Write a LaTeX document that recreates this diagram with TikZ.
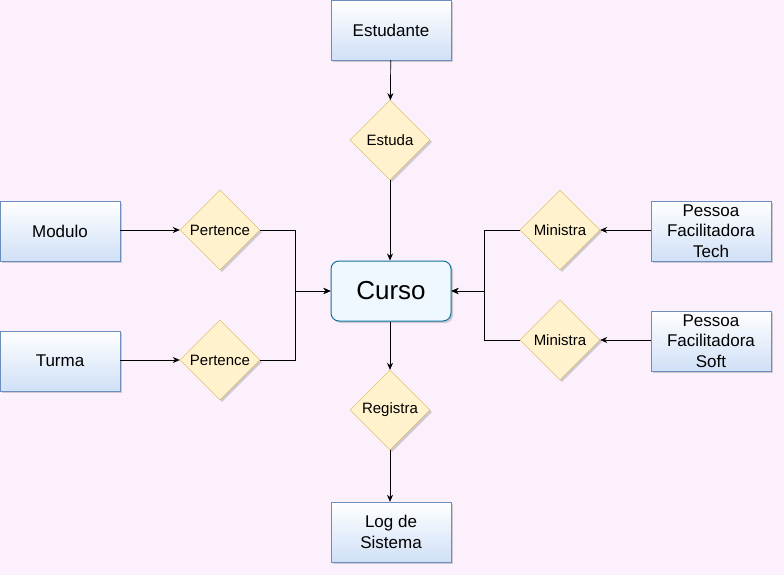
\documentclass[tikz,border=0pt]{standalone}
\usepackage{fontspec}
\setmainfont{Liberation Sans}
\usetikzlibrary{shapes.geometric,shadows,arrows.meta}
\definecolor{pagepink}{RGB}{252, 240, 252}
\definecolor{entityblue}{RGB}{108, 142, 191}
\definecolor{entityfill}{RGB}{208, 224, 247}
\definecolor{relfill}{RGB}{255, 242, 204}
\definecolor{reledge}{RGB}{214, 182, 86}
\definecolor{cursoedge}{RGB}{16, 115, 158}
\definecolor{cursofill}{RGB}{240, 248, 255}

\tikzset{
  entity/.style={draw=entityblue, top color=white, bottom color=entityfill, minimum width=120pt, minimum height=60pt, inner sep=1pt, align=center, font=\fontsize{17}{20.5}\selectfont, drop shadow={shadow xshift=2pt, shadow yshift=-2pt, opacity=0.35}},
  relation/.style={diamond, draw=reledge, fill=relfill, minimum width=80pt, minimum height=80pt, inner sep=0pt, font=\fontsize{15}{18}\selectfont, drop shadow={shadow xshift=2pt, shadow yshift=-2pt, opacity=0.35}},
  arr/.style={-{Stealth[length=7pt, width=6pt]}, line width=0.7pt}
}

\begin{document}
\begin{tikzpicture}[x=1pt, y=-1pt]
\fill[pagepink] (0,0) rectangle (784,575);
\useasboundingbox (0,0) rectangle (784,575);

% entities
\node[entity] (estudante) at (391,30) {Estudante};
\node[entity] (modulo) at (60,231) {Modulo};
\node[entity] (turma) at (60,361) {Turma};
\node[entity] (tech) at (711,231) {Pessoa\\Facilitadora\\Tech};
\node[entity] (soft) at (711,341) {Pessoa\\Facilitadora\\Soft};
\node[entity] (log) at (391,532) {Log de\\Sistema};
\node[draw=cursoedge, line width=1pt, fill=cursofill, rounded corners=8pt, minimum width=120pt, minimum height=60pt, font=\fontsize{26}{30}\selectfont, drop shadow={shadow xshift=2pt, shadow yshift=-2pt, opacity=0.35}] (curso) at (391,291) {Curso};

% relations
\node[relation] (estuda) at (390,140) {Estuda};
\node[relation] (pert1) at (220,230) {Pertence};
\node[relation] (pert2) at (220,360) {Pertence};
\node[relation] (min1) at (560,230) {Ministra};
\node[relation] (min2) at (560,340) {Ministra};
\node[relation] (registra) at (390,410) {Registra};

% connectors
\draw[arr] (estudante) -- (estuda);
\draw[arr] (estuda) -- (estuda |- curso.north);
\draw[arr] (modulo.east |- pert1) -- (pert1.west);
\draw[arr] (turma.east |- pert2) -- (pert2.west);
\draw[arr] (pert1.east) -- ++(35,0) |- (curso.west);
\draw[arr] (pert2.east) -- ++(35,0) |- (curso.west);
\draw[arr] (tech.west |- min1) -- (min1.east);
\draw[arr] (soft.west |- min2) -- (min2.east);
\draw[arr] (min1.west) -- ++(-35,0) |- (curso.east);
\draw[arr] (min2.west) -- ++(-35,0) |- (curso.east);
\draw[arr] (curso.south -| registra) -- (registra.north);
\draw[arr] (registra.south) -- (registra |- log.north);
\end{tikzpicture}
\end{document}
